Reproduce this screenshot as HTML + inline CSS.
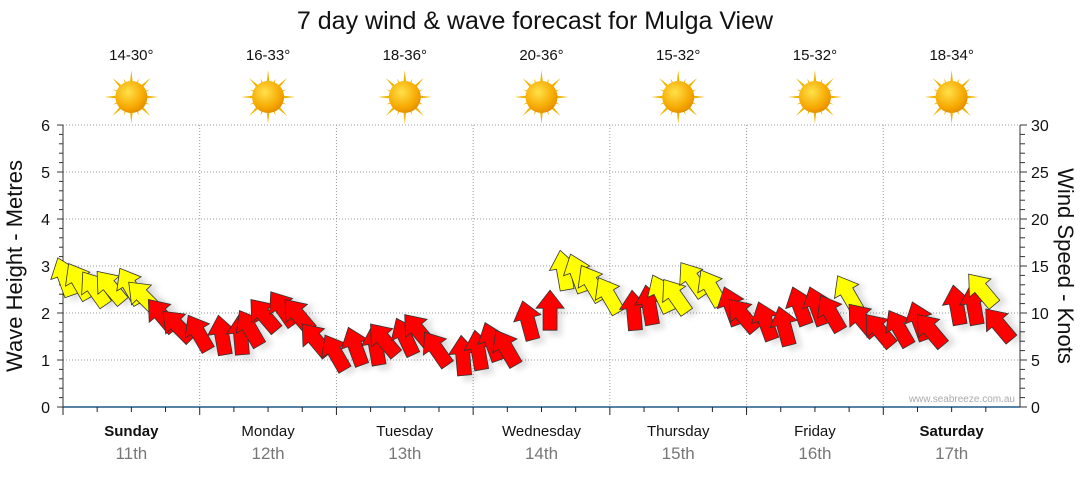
<!DOCTYPE html>
<html><head><meta charset="utf-8"><style>
body{margin:0;background:#fff;font-family:"Liberation Sans",sans-serif}
svg text{font-family:"Liberation Sans",sans-serif}
</style></head><body>
<svg id="c" width="1080" height="475" viewBox="0 0 1080 475">
<defs>
<radialGradient id="sg" cx="0.4" cy="0.35" r="0.7"><stop offset="0" stop-color="#ffe14a"/><stop offset="0.7" stop-color="#f6a800"/><stop offset="1" stop-color="#e08a00"/></radialGradient>
<filter id="sh" x="-50%" y="-50%" width="200%" height="200%"><feGaussianBlur stdDeviation="3"/></filter>
</defs>
<text x="535" y="29" text-anchor="middle" font-size="25" fill="#111">7 day wind &amp; wave forecast for Mulga View</text>
<g id="grid"></g><g id="axes"></g><g id="suns"></g><g id="arrows"></g>
<text x="1015" y="402" text-anchor="end" font-size="10" fill="#aaa">www.seabreeze.com.au</text>
<text transform="translate(22,266) rotate(-90)" text-anchor="middle" font-size="22" fill="#111">Wave Height - Metres</text>
<text transform="translate(1058,266) rotate(90)" text-anchor="middle" font-size="22" fill="#111">Wind Speed - Knots</text>
</svg>
<script>
const days=["Sunday","Monday","Tuesday","Wednesday","Thursday","Friday","Saturday"];
const dates=["11th","12th","13th","14th","15th","16th","17th"];
const temps=["14-30°","16-33°","18-36°","20-36°","15-32°","15-32°","18-34°"];
const waveTicks=[0,1,2,3,4,5,6];
const windTicks=[0,5,10,15,20,25,30];
const windKnots=[14.0,13.7,13.0,13.3,13.2,12.4,10.3,9.3, 8.2,7.7,7.7,8.7,10.3,10.9,10.3,7.7, 6.1,6.6,6.6,7.7,7.7,8.7,6.6,5.5, 6.1,7.1,6.6,9.3,10.3,14.6,14.4,13.5, 12.2,10.3,10.9,12.3,12.2,14.0,13.0,10.9, 10.3,9.3,8.7,10.9,10.9,10.3,12.4,9.8, 8.7,8.7,9.3,8.7,10.9,10.9,13.0,9.3];
const windDir=[-20,-30,-35,-40,-30,-45,-40,-45, -30,-10,-5,-30,-40,-35,-40,-40, -30,-20,-10,-40,-25,-40,-35,-5, -10,-20,-30,-15,0,-10,-20,-30, -30,-5,-10,-25,-35,-35,-30,-20, -40,-20,-15,-20,-20,-30,-30,-40, -40,-30,-20,-40,-10,-10,-40,-40];
const NS="http://www.w3.org/2000/svg";
const X0=63,X1=1020,Y0=407,Y1=125,DW=(X1-X0)/7;
const yWave=v=>Y0-(v/6)*(Y0-Y1);
const yWind=v=>Y0-(v/30)*(Y0-Y1);
const xIdx=i=>X0+(i+0.5)*DW/8;
function mk(tag,attrs,parent){const e=document.createElementNS(NS,tag);for(const k in attrs)e.setAttribute(k,attrs[k]);parent.appendChild(e);return e;}
const grid=document.getElementById('grid'),axes=document.getElementById('axes'),suns=document.getElementById('suns'),arr=document.getElementById('arrows');
waveTicks.forEach(v=>{
 if(v>0){const l=mk('line',{x1:X0,x2:X1,y1:yWave(v),y2:yWave(v),stroke:'#999','stroke-dasharray':'1,2'},grid);
 
 }
 const t=mk('text',{x:50,y:yWave(v)+6,'text-anchor':'end','font-size':16,fill:'#111'},axes);t.textContent=v;
 
 
});
for(let i=0;i<=30;i++){const y=yWind(i);
 mk('line',{x1:X0-(i%5?4:6),x2:X0,y1:y,y2:y,stroke:'#333'},axes);
 mk('line',{x1:X1,x2:X1+(i%5?5:7),y1:y,y2:y,stroke:'#333'},axes);}
windTicks.forEach(v=>{const t=mk('text',{x:1031,y:yWind(v)+6,'font-size':16,fill:'#111'},axes);t.textContent=v;
 
 });
mk('line',{x1:X0,x2:X0,y1:Y1,y2:Y0,stroke:'#333'},axes);
mk('line',{x1:X1,x2:X1,y1:Y1,y2:Y0,stroke:'#333'},axes);
mk('line',{x1:X0,x2:X1,y1:Y0,y2:Y0,stroke:'#1f5a85','stroke-width':1.5},axes);
for(let d=0;d<7;d++){
 const xs=X0+d*DW;
 if(d>0){const g=mk('line',{x1:xs,x2:xs,y1:Y1,y2:Y0,stroke:'#999','stroke-dasharray':'1,2'},grid);
 
 }
 for(let q=0;q<4;q++){const x=xs+q*DW/4;mk('line',{x1:x,x2:x,y1:Y0,y2:Y0+(q==0?8:5),stroke:'#222'},axes);}
 const cx=xs+DW/2;
 const dn=mk('text',{x:cx,y:436,'text-anchor':'middle','font-size':15,fill:'#111','font-weight':(d==0||d==6)?'bold':'normal'},axes);dn.textContent=days[d];
 
 
 const dt=mk('text',{x:cx,y:459,'text-anchor':'middle','font-size':17,fill:'#777'},axes);dt.textContent=dates[d];
 
 
 const tt=mk('text',{x:cx,y:60,'text-anchor':'middle','font-size':15,fill:'#111'},suns);tt.textContent=temps[d];
 
 
 const sg=mk('g',{transform:`translate(${cx},97)`},suns);
 
 
 for(let r=0;r<16;r++){const a=r*22.5,L=r%2?20:27;
  mk('polygon',{points:`-3,0 3,0 0,${-L}`,fill:'#f0b400',transform:`rotate(${a})`},sg);}
 mk('circle',{r:16,fill:'url(#sg)'},sg);
}
const P="-7,0 -7,-22 -14,-22 0,-40 14,-22 7,-22 7,0";
windKnots.forEach((v,i)=>{
 const x=xIdx(i),y=yWind(v)+20,c=v>=12?'#ffff00':'#ff0000';
 const g=mk('g',{transform:`translate(${x},${y}) rotate(${windDir[i]})`},arr);
 
 
 mk('polygon',{points:P,fill:'#000',opacity:0.12,filter:'url(#sh)',transform:'translate(5,6)'},g);
 mk('polygon',{points:P,fill:c,stroke:'#333','stroke-width':0.8},g);
});
</script>
</body></html>
